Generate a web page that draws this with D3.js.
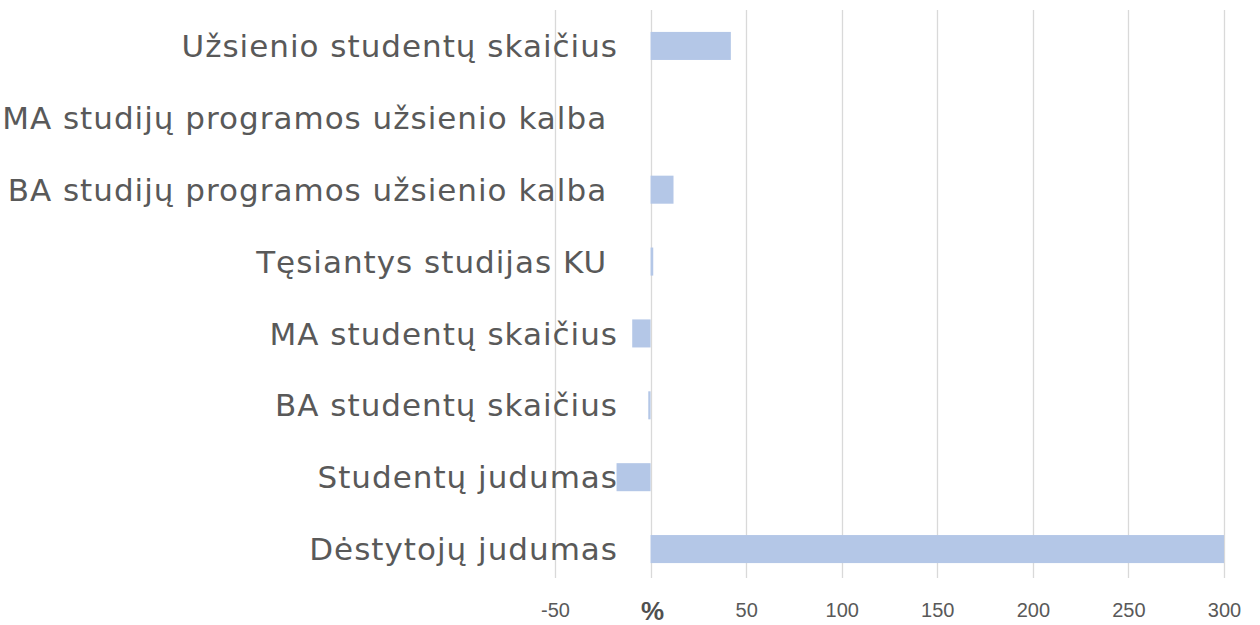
<!doctype html>
<html lang="lt">
<head>
  <meta charset="utf-8">
  <title>Bar chart</title>
  <script src="https://d3js.org/d3.v7.min.js"></script>
  <style>
    body { margin: 0; background: #fff; }
    text { white-space: pre; }
  </style>
</head>
<body>
<div id="my_chart"></div>
<script>
  const width = 1260;
  const height = 625;
  const margin = {top: 10, right: 35, bottom: 40, left: 555};

  // data (top to bottom)
  const categories = [
    "Užsienio studentų skaičius",
    "MA studijų programos užsienio kalba ",
    "BA studijų programos užsienio kalba ",
    "Tęsiantys studijas KU ",
    "MA studentų skaičius",
    "BA studentų skaičius",
    "Studentų judumas",
    "Dėstytojų judumas"
  ];
  const values = [42, 0, 12, 1.4, -9.6, -1.2, -17.8, 300];
  const x_ticks = [-50, 0, 50, 100, 150, 200, 250, 300];
  const axis_label = "%";

  const ih = height - margin.top - margin.bottom;  // 575
  const grid_h = 568;

  const x = d3.scaleLinear().domain([-50, 300]).range([0, 1224 - 555]);
  const y = d3.scaleBand().domain(categories).range([0, ih]).paddingInner(0.61).paddingOuter(0.305);

  const svg = d3.select('#my_chart').append('svg')
    .attr('width', width)
    .attr('height', height);

  const g = svg.append('g')
    .attr('transform', 'translate(' + margin.left + ',' + margin.top + ')');

  // gridlines
  g.append('g').selectAll('line')
    .data(x_ticks)
    .join('line')
      .attr('x1', d => Math.round(x(d)) + 0.5)
      .attr('x2', d => Math.round(x(d)) + 0.5)
      .attr('y1', 0)
      .attr('y2', grid_h)
      .attr('stroke', '#d9d9d9')
      .attr('stroke-width', 1.3);

  // bars
  g.append('g').selectAll('rect')
    .data(values)
    .join('rect')
      .attr('x', d => x(Math.min(0, d)))
      .attr('width', d => Math.abs(x(d) - x(0)))
      .attr('y', (d, i) => y(categories[i]))
      .attr('height', y.bandwidth())
      .attr('fill', '#b4c7e7');

  // x axis tick labels
  const xAxis = d3.axisBottom(x).tickValues(x_ticks).tickSize(0).tickPadding(0)
    .tickFormat(d => d === 0 ? '' : d);
  const ax = g.append('g')
    .attr('transform', 'translate(0,' + (grid_h + 25) + ')')
    .call(xAxis);
  ax.select('.domain').remove();
  ax.selectAll('text')
    .attr('font-family', '"Liberation Sans", Arial, sans-serif')
    .attr('font-size', 20)
    .attr('fill', '#595959');

  g.append('text')
    .attr('x', x(0) + 2)
    .attr('y', grid_h + 42)
    .attr('text-anchor', 'middle')
    .attr('font-family', '"Liberation Sans", Arial, sans-serif')
    .attr('font-size', 26)
    .attr('font-weight', 'bold')
    .attr('fill', '#505050')
    .text(axis_label);

  // category labels
  svg.append('g').selectAll('text')
    .data(categories)
    .join('text')
      .attr('x', 618)
      .attr('y', d => margin.top + y(d) + y.bandwidth() / 2)
      .attr('dy', '0.36em')
      .attr('text-anchor', 'end')
      .attr('font-family', '"DejaVu Sans", sans-serif')
      .attr('font-size', 31)
      .attr('letter-spacing', 1)
      .attr('fill', '#595959')
      .text(d => d);
</script>
</body>
</html>
